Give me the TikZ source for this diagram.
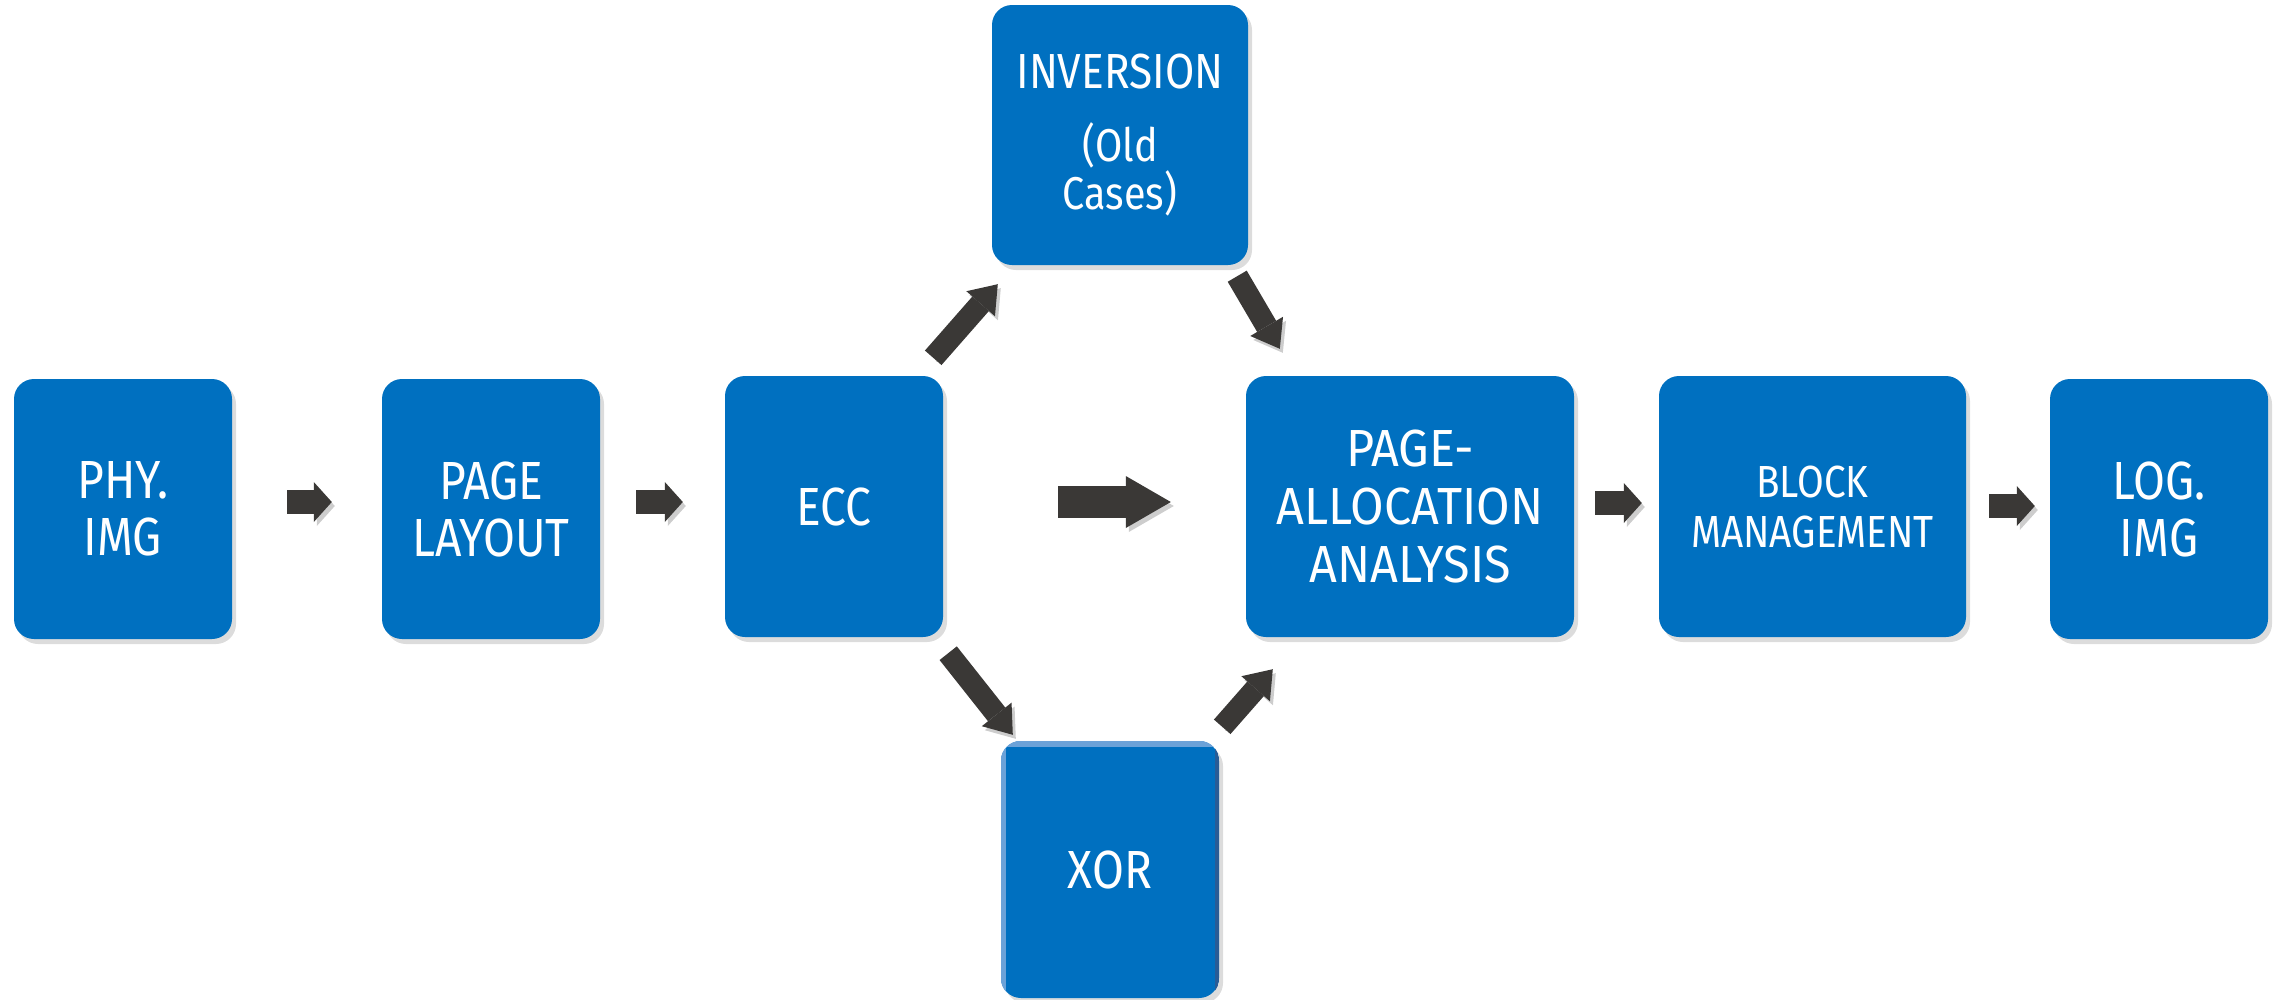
\documentclass[tikz,border=0pt]{standalone}
\usepackage{fontspec}
\setmainfont[FakeStretch=0.86]{Fira Sans}
\usetikzlibrary{arrows.meta,shadows}
\definecolor{boxblue}{RGB}{0,112,192}
\definecolor{arrowgray}{RGB}{58,56,54}
\definecolor{shadegray}{RGB}{205,205,205}
\definecolor{xorlight}{RGB}{108,162,216}
\definecolor{xordark}{RGB}{40,92,150}
\begin{document}
\begin{tikzpicture}[x=1pt,y=-1pt,
  blk/.style={rectangle, rounded corners=20pt, fill=boxblue, text=white,
    align=center, inner sep=0pt,
    drop shadow={shadow xshift=4pt, shadow yshift=-5pt, opacity=0.28}},
  bigfont/.style={font=\fontsize{53.7pt}{57pt}\selectfont},
  arrshadow/.style={preaction={draw=shadegray, transform canvas={shift={(3pt,-4pt)}}}},
  harrow/.style={arrshadow, draw=arrowgray, line width=24pt,
    -{Triangle[length=18pt,width=40pt,line width'=0pt]}},
  bigarrow/.style={arrshadow, draw=arrowgray, line width=32pt,
    -{Triangle[length=45pt,width=52pt,line width'=0pt]}},
  darrow/.style={arrshadow, draw=arrowgray, line width=22pt,
    -{Triangle[length=26pt,width=38pt,line width'=0pt]}}
]
\useasboundingbox (0,0) rectangle (2278,999);

\node[blk, minimum width=218pt, minimum height=260pt, bigfont] (phy) at (123,509) {PHY.\\IMG};
\node[blk, minimum width=218pt, minimum height=260pt, bigfont] (pl) at (491,509) {PAGE\\LAYOUT};
\node[blk, minimum width=218pt, minimum height=261pt, bigfont] (ecc) at (834,506.5) {ECC};
\node[blk, minimum width=256pt, minimum height=260pt, font=\fontsize{46pt}{48pt}\selectfont] (inv) at (1120,135)
  {{\fontsize{49.3pt}{48pt}\selectfont INVERSION}\\[25pt](Old\\Cases)};
\node[blk, minimum width=218pt, minimum height=257pt, bigfont] (xor) at (1110,869.5) {XOR};
\begin{scope}
  \clip[rounded corners=20pt] (xor.south west) rectangle (xor.north east);
  \fill[xorlight] (xor.north west) rectangle ([yshift=-6pt]xor.north east);
  \fill[xorlight] (xor.north west) rectangle ([xshift=5pt]xor.south west);
  \fill[xordark] ([xshift=-4pt]xor.north east) rectangle (xor.south east);
\end{scope}
\node[blk, minimum width=328pt, minimum height=261pt, font=\fontsize{52.2pt}{58pt}\selectfont\addfontfeature{FakeStretch=0.93}] (paa) at (1410,506.5) {PAGE-\\ALLOCATION\\ANALYSIS};
\node[blk, minimum width=307pt, minimum height=261pt, font=\fontsize{45pt}{50pt}\selectfont] (bm) at (1812.5,506.5) {BLOCK\\MANAGEMENT};
\node[blk, minimum width=218pt, minimum height=260pt, bigfont] (log) at (2159,509) {LOG.\\IMG};

% horizontal arrows
\draw[harrow, shorten <=55pt, shorten >=50pt] ([yshift=7pt]phy.east) -- ([yshift=7pt]pl.west);
\draw[harrow, shorten <=36pt, shorten >=42pt] ([yshift=7pt]pl.east) -- ([yshift=4.5pt]ecc.west);
\draw[bigarrow, shorten <=115pt, shorten >=75pt] ([yshift=4.5pt]ecc.east) -- ([yshift=4.5pt]paa.west);
\draw[harrow, shorten <=21pt, shorten >=17pt] ([yshift=3.5pt]paa.east) -- ([yshift=3.5pt]bm.west);
\draw[harrow, shorten <=23pt, shorten >=15pt] ([yshift=0.5pt]bm.east) -- ([yshift=3pt]log.west);

% diagonal arrows
\draw[darrow] ([xshift=-10pt,yshift=18pt]ecc.north east) -- ([xshift=6pt,yshift=-19pt]inv.south west);
\draw[darrow] ([xshift=-11pt,yshift=-11pt]inv.south east) -- ([xshift=34pt,yshift=27pt]paa.north west);
\draw[darrow] ([xshift=5pt,yshift=-16pt]ecc.south east) -- ([xshift=12pt,yshift=6pt]xor.north west);
\draw[darrow] ([xshift=3pt,yshift=14pt]xor.north east) -- ([xshift=27pt,yshift=-32pt]paa.south west);
\end{tikzpicture}
\end{document}
